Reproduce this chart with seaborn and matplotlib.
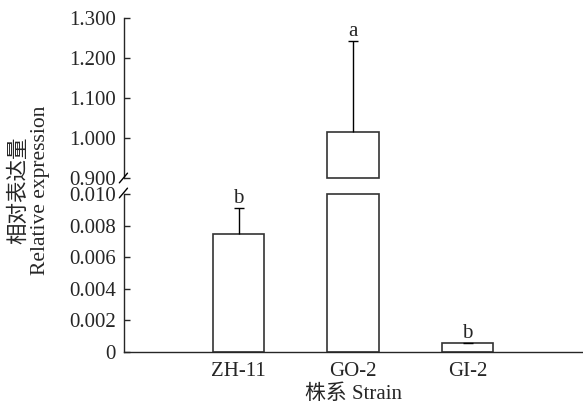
import numpy as np
import matplotlib
matplotlib.use("Agg")
import matplotlib.pyplot as plt
import seaborn as sns

# data
strains = ["ZH-11", "GO-2", "GI-2"]
expression = [0.00747, 1.016, 0.00055]
error_up = [0.00162, 0.2265, 0.00003]
letters = ["b", "a", "b"]

top_ticks = [0.9, 1.0, 1.1, 1.2, 1.3]
bottom_ticks = [0, 0.002, 0.004, 0.006, 0.008, 0.010]

sns.set_style("ticks")
plt.rcParams["font.family"] = ["Liberation Serif", "Noto Sans CJK SC"]
fs = 15

edge = "#333333"
fig = plt.figure(figsize=(5.83, 4.04), dpi=100)
ax_top = fig.add_axes([0.2127, 0.5594, 0.7856, 0.3960])
ax_bot = fig.add_axes([0.2127, 0.1287, 0.7856, 0.3911])

low_top, high_top = top_ticks[0], top_ticks[-1]
high_bot = bottom_ticks[-1]

# bottom panel: bars clipped at the break
sns.barplot(x=strains, y=np.minimum(expression, high_bot), ax=ax_bot, color="white",
            saturation=1, edgecolor=edge, linewidth=1.2, width=0.45)
for p in ax_bot.patches:
    p.set_clip_on(False)

# top panel: only the part above the break
sns.barplot(x=strains, y=expression, ax=ax_top, color="white",
            saturation=1, edgecolor=edge, linewidth=1.2, width=0.45)
for p, v in zip(ax_top.patches, expression):
    if v > low_top:
        p.set_y(low_top)
        p.set_height(v - low_top)
        p.set_clip_on(False)
    else:
        p.set_visible(False)

for ax, lo, hi in [(ax_top, low_top, high_top), (ax_bot, 0, high_bot)]:
    eb = ax.errorbar(range(len(strains)), expression,
                     yerr=[np.zeros(len(strains)), error_up],
                     fmt="none", ecolor="black", elinewidth=1.0, capsize=3.6, capthick=1.0)
    eb[1][0].set_visible(False)  # only the upper cap
    for i, (v, e, t) in enumerate(zip(expression, error_up, letters)):
        if lo < v + e <= hi:
            ax.annotate(t, (i, v + e), xytext=(0, 0), textcoords="offset points",
                        ha="center", va="bottom", fontsize=fs)
    ax.set_ylim(lo, hi)
    ax.set_xlim(-1, 3)
    ax.set_ylabel("")
    ax.tick_params(axis="y", direction="in", length=4, width=1, labelsize=fs, pad=6)
    ax.tick_params(axis="x", length=0, labelsize=fs, pad=7)
    for s in ["top", "right"]:
        ax.spines[s].set_visible(False)
    ax.spines["left"].set_linewidth(1.0)

ax_top.spines["bottom"].set_visible(False)
ax_top.set_xticks([])
ax_top.set_yticks(top_ticks)
ax_top.set_yticklabels([f"{t:.3f}" for t in top_ticks])

ax_bot.set_yticks(bottom_ticks)
ax_bot.set_yticklabels(["0"] + [f"{t:.3f}" for t in bottom_ticks[1:]])
ax_bot.spines["bottom"].set_linewidth(1.0)
ax_bot.set_xlabel("株系 Strain", fontsize=fs, labelpad=3)

# break marks on the left spine
kw = dict(color="black", lw=1.0, clip_on=False, transform=fig.transFigure)
for yb in [(404 - 178) / 404, (404 - 193) / 404]:
    fig.add_artist(plt.Line2D([0.2127 - 0.008, 0.2127 + 0.006], [yb - 0.012, yb + 0.012], **kw))

fig.text(0.05, 0.53, "相对表达量\nRelative expression", rotation=90,
         ha="center", va="center", fontsize=15.5, linespacing=1.15)

fig.savefig("out.png", dpi=100)
